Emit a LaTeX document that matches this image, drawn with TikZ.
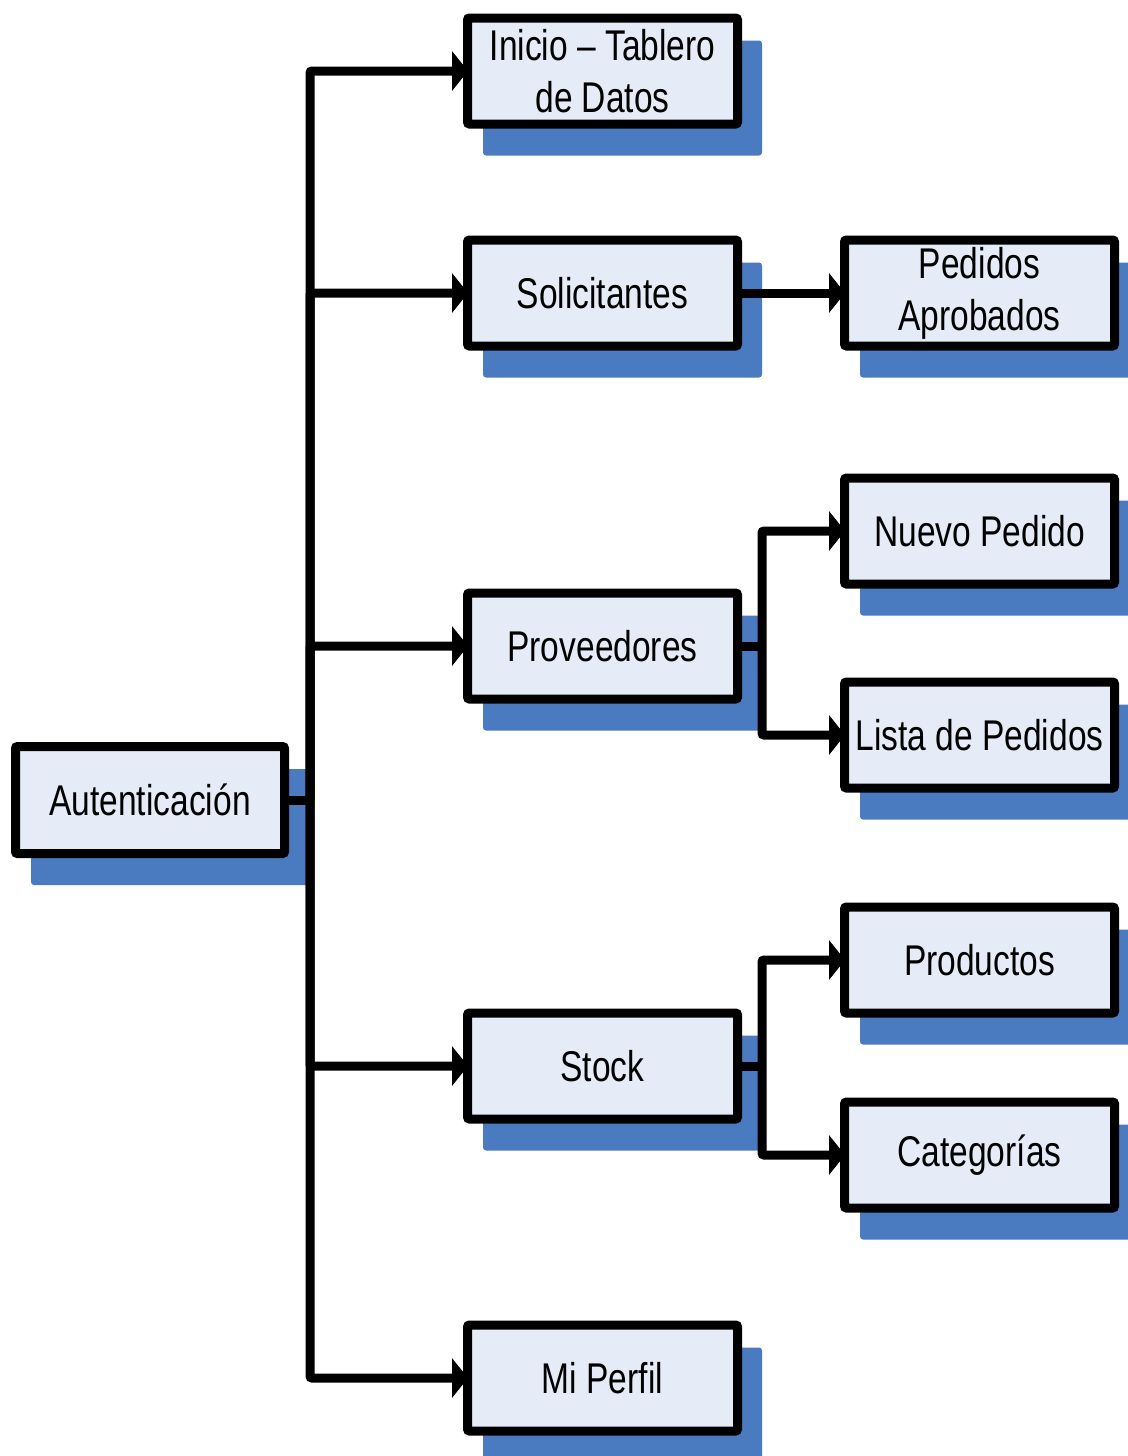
\documentclass[tikz,border=0pt]{standalone}
\usepackage{fontspec}
\setmainfont{Liberation Sans}[FakeStretch=0.78]
\usetikzlibrary{arrows.meta}
\definecolor{boxfill}{HTML}{E6ECF7}
\definecolor{shadowblue}{HTML}{4A7AC0}
\pgfdeclarelayer{shadowlayer}
\pgfdeclarelayer{linklayer}
\pgfsetlayers{shadowlayer,linklayer,main}
\begin{document}
\begin{tikzpicture}[x=1pt,y=-1pt,
  menubox/.style={draw=black, fill=boxfill, line width=9pt, rounded corners=2pt,
    minimum width=270pt, minimum height=106pt, inner sep=0pt, align=center,
    font=\fontsize{43}{52}\selectfont},
  link/.style={line width=9pt, rounded corners=2pt},
  arr/.style={link, shorten >=-5pt, -{Triangle[length=16pt,width=39pt]}}
]
\useasboundingbox (0,0) rectangle (1127,1456);

% root
\node[menubox, minimum width=269pt, minimum height=107pt] (auth) at (150,800) {Autenticación};

% first level
\node[menubox] (inicio) at (602.5,71)   {Inicio – Tablero\\de Datos};
\node[menubox] (solic)  at (602.5,293)  {Solicitantes};
\node[menubox] (prov)   at (602.5,646)  {Proveedores};
\node[menubox] (stock)  at (602.5,1066) {Stock};
\node[menubox] (perfil) at (602.5,1378) {Mi Perfil};

% second level
\node[menubox] (aprob)  at (979.5,293)  {Pedidos\\Aprobados};
\node[menubox] (nuevo)  at (979.5,531)  {Nuevo Pedido};
\node[menubox] (lista)  at (979.5,735)  {Lista de Pedidos};
\node[menubox] (prod)   at (979.5,960)  {Productos};
\node[menubox] (categ)  at (979.5,1155) {Categorías};

% junction points
\coordinate (trunk) at (310,800);
\coordinate (pj) at (762,646);
\coordinate (sj) at (762,1066);

\begin{pgfonlayer}{shadowlayer}
  \foreach \n in {auth,inicio,solic,prov,stock,perfil,aprob,nuevo,lista,prod,categ}
    \fill[shadowblue, rounded corners=3pt]
      ([shift={(20,27)}]\n.north west) rectangle ([shift={(20,27)}]\n.south east);
\end{pgfonlayer}

\begin{pgfonlayer}{linklayer}
  \draw[link] (auth.east) -- (trunk);
  \draw[arr] (trunk) |- (inicio.west);
  \draw[arr] (trunk) |- (solic.west);
  \draw[arr] (trunk) |- (prov.west);
  \draw[arr] (trunk) |- (stock.west);
  \draw[arr] (trunk) |- (perfil.west);
  \draw[arr] (solic.east) -- (aprob.west);
  \draw[link] (prov.east) -- (pj);
  \draw[arr] (pj) |- (nuevo.west);
  \draw[arr] (pj) |- (lista.west);
  \draw[link] (stock.east) -- (sj);
  \draw[arr] (sj) |- (prod.west);
  \draw[arr] (sj) |- (categ.west);
\end{pgfonlayer}
\end{tikzpicture}
\end{document}
